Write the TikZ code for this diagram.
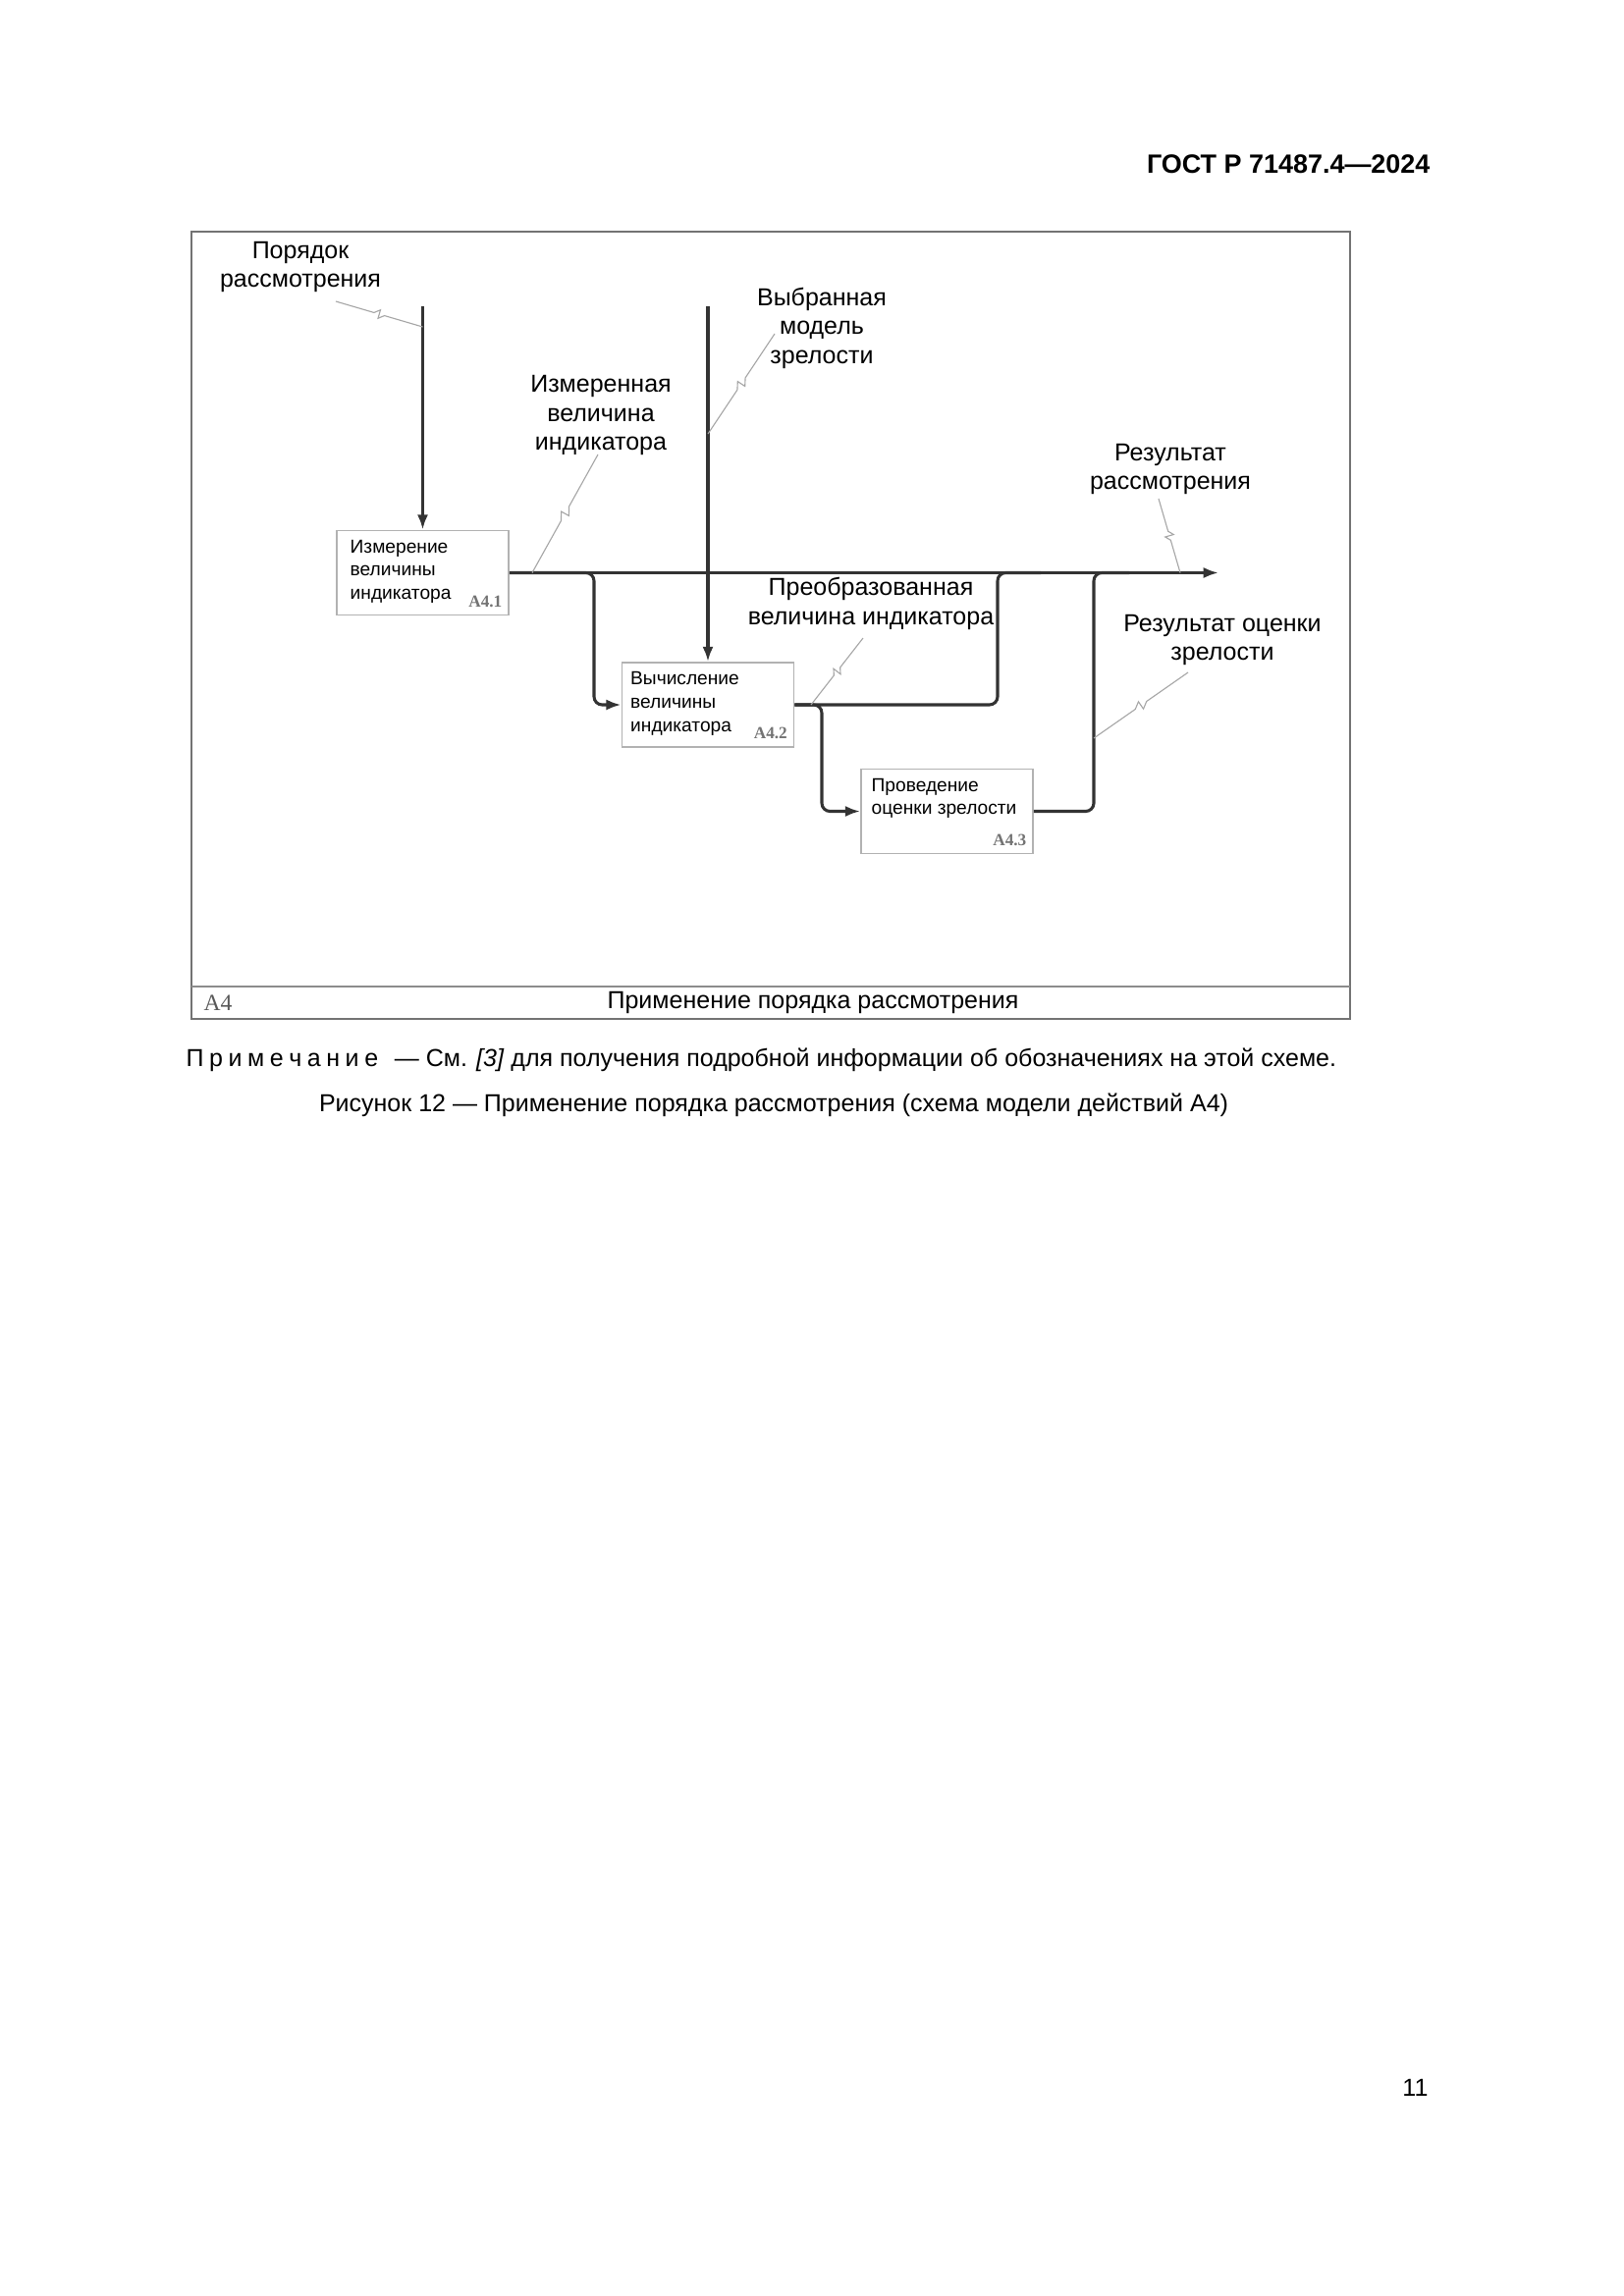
\documentclass[tikz,border=0pt]{standalone}
\usepackage{fontspec}
\setmainfont{Liberation Sans}
\newfontfamily\boxnum{Liberation Serif}
\usetikzlibrary{arrows.meta,calc}

% IDEF0 squiggle between a label and its arrow
\newcommand{\squig}[2]{%
  \draw[leader] (#1) -- ($(#1)!0.44!(#2)$)
    -- ($(#1)!0.5!(#2)!1.6pt!90:(#2)$) -- ($(#1)!0.5!(#2)!1.6pt!-90:(#2)$)
    -- ($(#1)!0.56!(#2)$) -- (#2);}
\newcommand{\ls}{\hspace{2pt}}

\begin{document}
\begin{tikzpicture}[x=0.3599pt, y=-0.3599pt,
    line/.style={draw=black!80, line width=1.1pt, rounded corners=3pt},
    arr/.style={line, -{Latex[length=5.5pt,width=4pt]}},
    leader/.style={draw=black!35, line width=0.4pt},
    frame/.style={draw=black!55, line width=0.8pt},
    act/.style={draw=black!30, line width=0.6pt, minimum width=63pt, minimum height=31pt, inner sep=0pt},
    acttext/.style={anchor=north west, align=left, inner sep=0pt, font=\fontsize{6.9}{8.5}\selectfont},
    actnum/.style={anchor=base east, inner sep=0pt, text=black!55, font=\boxnum\bfseries\fontsize{6.2}{7}\selectfont},
    lbl/.style={align=center, inner sep=0pt, font=\fontsize{9}{10.6}\selectfont},
    txt/.style={inner sep=0pt, font=\fontsize{9}{11}\selectfont}]
  \fill[white] (0,0) rectangle (1654,2339);
  \useasboundingbox (0,0) rectangle (1654,2339);

  \node[anchor=east, inner sep=0pt, font=\bfseries\fontsize{9.7}{12}\selectfont] (head) at (1457,167) {ГОСТ Р 71487.4—2024};

  \draw[frame] (195,236) rectangle (1375,1038);
  \draw[frame, line width=1pt, draw=black!45] (195,1005) -- (1375,1005);
  \node[inner sep=0pt, text=black!65, font=\boxnum\fontsize{8.5}{9}\selectfont] (a4) at (222,1022) {A4};
  \node[txt] (title) at (828,1021) {Применение порядка рассмотрения};

  % activities
  \node[act] (a41) at (430.5,583.5) {};
  \node[act] (a42) at (721,718) {};
  \node[act] (a43) at (964.5,826.5) {};
  \node[acttext] (t41) at ($(a41.north west)+(14,10)$) {Измерение\\величины\\индикатора};
  \node[acttext] (t42) at ($(a42.north west)+(9,10)$) {Вычисление\\величины\\индикатора};
  \node[acttext] (t43) at ($(a43.north west)+(11,10)$) {Проведение\\оценки зрелости};
  \node[actnum] (n41) at ($(a41.south east)+(-7,-9)$) {A4.1};
  \node[actnum] (n42) at ($(a42.south east)+(-7,-9)$) {A4.2};
  \node[actnum] (n43) at ($(a43.south east)+(-7,-9)$) {A4.3};

  % arrows
  \coordinate (c1) at (430.5,312);
  \coordinate (c2) at (721,312);
  \coordinate (out) at (1241,583.5);
  \coordinate (j1) at (605,718);
  \coordinate (j2) at (1016,583.5);
  \coordinate (j2b) at (1060,583.5);
  \coordinate (j3) at (837,826.5);
  \coordinate (j4) at (1114,583.5);
  \coordinate (j4b) at (1150,583.5);
  \draw[arr] (c1) -- (a41.north);
  \draw[arr] (c2) -- (a42.north);
  \draw[arr] (a41.east) -- (out);
  \draw[arr] (a41.east) -| (j1) -- (a42.west);
  \draw[line] (a42.east) -| (j2) -- (j2b);
  \draw[arr] (a42.east) -| (j3) -- (a43.west);
  \draw[line] (a43.east) -| (j4) -- (j4b);

  % labels
  \node[lbl] (l1) at (306,272) {Порядок\\рассмотрения};
  \node[lbl] (l2) at (612,423) {Измеренная\\величина\\индикатора};
  \node[lbl] (l3) at (837,334) {Выбранная\\модель\\зрелости};
  \node[lbl] (l4) at (887,615) {Преобразованная\\величина индикатора};
  \node[lbl] (l5) at (1192,478) {Результат\\рассмотрения};
  \node[lbl] (l6) at (1245,652) {Результат оценки\\зрелости};
  \coordinate (s1) at (342,307);   \coordinate (p1) at (430.5,333);
  \coordinate (s2) at (609,463);   \coordinate (p2) at (542,583.5);
  \coordinate (s3) at (789,340);   \coordinate (p3) at (721,442);
  \coordinate (s4) at (879,650);   \coordinate (p4) at (826,718);
  \coordinate (s5) at (1180,508);  \coordinate (p5) at (1202,583.5);
  \coordinate (s6) at (1210,685);  \coordinate (p6) at (1114,752);
  \squig{s1}{p1}
  \squig{s2}{p2}
  \squig{s3}{p3}
  \squig{s4}{p4}
  \squig{s5}{p5}
  \squig{s6}{p6}

  \node[txt, anchor=west] (note) at (189,1080) {П\ls р\ls и\ls м\ls е\ls ч\ls а\ls н\ls и\ls е\hspace{6pt}— См. \textit{[3]} для получения подробной информации об обозначениях на этой схеме.};
  \node[txt] (cap) at (788,1126) {Рисунок 12 — Применение порядка рассмотрения (схема модели действий А4)};
  \node[txt, anchor=east] (pg) at (1455,2127) {11};
\end{tikzpicture}
\end{document}
